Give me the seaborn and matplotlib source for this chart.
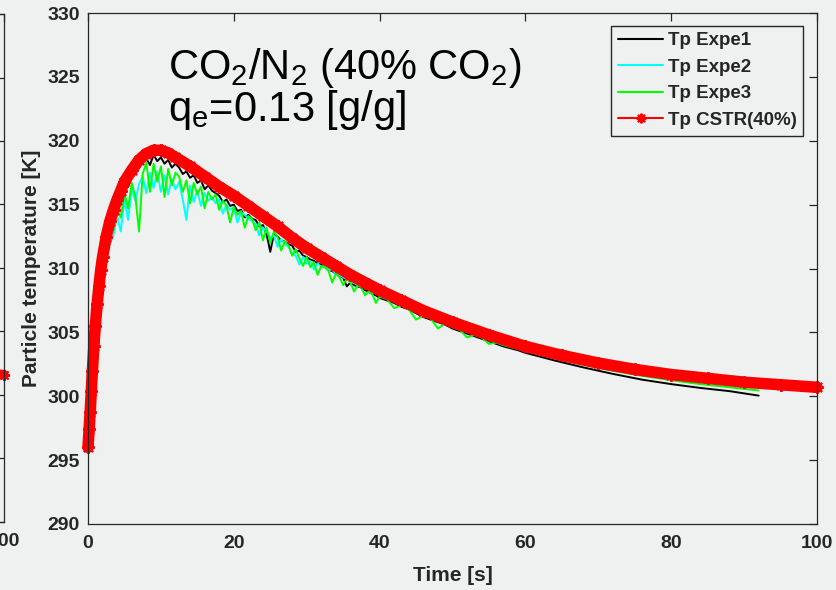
import numpy as np
import pandas as pd
import matplotlib
matplotlib.use("Agg")
import matplotlib.pyplot as plt
from matplotlib.lines import Line2D
import seaborn as sns

# ---------------- data ----------------
t_cstr = [0, 0.15, 0.3, 0.45, 0.6, 0.8, 1.0, 1.25, 1.5, 1.75, 2.0,
          2.5, 3, 3.5, 4, 4.5, 5,
          6, 7, 8, 9, 10, 11, 12,
          14, 16, 18, 20, 22, 24, 26, 28, 30, 32, 34, 36, 38, 40,
          43, 46, 50, 55, 60, 65, 70, 75, 80, 85, 90, 95, 100]
T_cstr = [296.0, 297.4, 298.8, 300.4, 302.0, 303.9, 305.5, 307.2, 308.6, 309.9, 310.9,
          312.5, 313.7, 314.6, 315.4, 316.1, 316.8,
          317.7, 318.5, 319.0, 319.25, 319.25, 319.05, 318.7,
          318.0, 317.2, 316.4, 315.7, 314.9, 314.1, 313.3, 312.4, 311.6, 310.9, 310.2, 309.5, 308.9, 308.3,
          307.5, 306.7, 305.8, 304.8, 303.9, 303.2, 302.6, 302.1, 301.7, 301.4, 301.1, 300.9, 300.7]

# sampling times of the experiments
t_exp = ([0, 0.3, 0.6, 1.0, 1.5, 2.0]
         + [k / 2 for k in range(5, 81)]
         + list(range(41, 61))
         + [64, 68, 72, 76, 80, 84, 88, 92])

T_expe1 = [296.0, 298.6, 301.7, 305.2, 308.2, 310.4,
           312.0, 313.1, 314.0, 314.9, 315.5, 316.2, 316.4, 317.1, 317.4, 317.9,
           318.3, 318.6, 318.1, 318.9, 318.4, 318.7, 318.2, 318.5, 317.9, 318.2,
           317.9, 317.4, 317.6, 317.1, 317.3, 316.7, 316.9, 316.2, 316.5, 316.1,
           315.9, 315.7, 315.2, 315.4, 314.9, 315.0, 314.5, 314.6, 314.0, 314.2,
           313.9, 313.8, 313.3, 313.4, 312.7, 311.3, 312.7, 312.5, 312.2, 312.1,
           311.9, 311.8, 311.3, 311.4, 311.0, 310.9, 310.7, 310.6, 310.4, 310.3,
           310.1, 309.9, 309.8, 309.6, 309.4, 309.3, 308.6, 308.9, 308.7, 308.6,
           308.5, 308.3, 308.2, 308.0, 307.9, 307.7,
           307.5, 307.3, 307.0, 306.8, 306.5, 306.2, 306.0, 305.8, 305.6, 305.3,
           305.1, 304.9, 304.7, 304.5, 304.3, 304.1, 303.9, 303.75, 303.6, 303.4,
           302.8, 302.25, 301.75, 301.3, 300.95, 300.65, 300.4, 300.05]

T_expe2 = [296.0, 298.3, 301.0, 304.2, 306.8, 309.0,
           310.8, 311.9, 312.6, 314.1, 312.9, 315.4, 313.8, 316.2, 315.3, 316.6,
           317.2, 315.9, 317.5, 316.3, 317.6, 316.0, 317.3, 315.8, 317.0, 316.2,
           316.8, 315.4, 313.8, 316.5, 315.2, 316.1, 314.9, 315.9, 315.3, 315.6,
           315.1, 315.4, 314.3, 315.0, 314.6, 314.8, 313.6, 314.4, 314.2, 313.9,
           313.7, 313.5, 312.6, 313.2, 312.9, 312.4, 312.6, 311.7, 312.3, 311.9,
           311.7, 311.2, 311.0, 310.3, 310.9, 310.4, 310.6, 309.9, 310.4, 310.1,
           310.2, 309.9, 309.9, 309.6, 309.5, 309.3, 309.2, 308.9, 308.9, 308.7,
           308.7, 308.5, 308.4, 308.2, 308.1, 307.9,
           307.9, 307.6, 307.35, 307.1, 306.9, 306.6, 306.45, 306.2, 306.05, 305.85,
           305.7, 305.55, 305.45, 305.3, 305.1, 304.9, 304.75, 304.55, 304.4, 304.2,
           303.6, 303.1, 302.6, 302.2, 301.85, 301.55, 301.3, 301.05]

T_expe3 = [296.0, 298.5, 301.4, 304.8, 307.8, 309.8,
           311.6, 312.8, 313.0, 314.6, 314.0, 315.9, 314.7, 316.7, 315.6, 312.9,
           317.4, 318.3, 316.0, 318.2, 316.8, 318.0, 315.6, 317.8, 316.5, 317.5,
           317.2, 316.0, 316.9, 315.1, 316.7, 315.8, 316.4, 314.7, 316.0, 315.4,
           315.8, 314.6, 315.3, 314.9, 313.6, 314.8, 314.2, 314.5, 313.2, 314.1,
           313.9, 313.0, 313.6, 312.2, 313.2, 312.0, 312.9, 312.5, 311.4, 312.1,
           311.8, 311.0, 311.5, 310.8, 310.2, 310.9, 310.1, 310.5, 309.5, 310.2,
           310.1, 309.8, 308.9, 309.6, 309.3, 308.7, 309.2, 308.9, 308.2, 308.7,
           308.5, 307.9, 308.2, 308.0, 307.3, 307.8,
           307.6, 306.9, 307.1, 306.8, 306.0, 306.3, 306.1, 305.3, 305.7, 305.4,
           305.2, 304.6, 304.8, 304.6, 304.1, 304.2, 304.0, 303.85, 303.7, 303.55,
           303.0, 302.45, 302.0, 301.6, 301.25, 300.95, 300.7, 300.45]

# tail of the neighbouring (cropped) panel on the left
t_left_tail = [99, 100]
T_left_tail = [301.65, 301.6]

labels = ["Tp Expe1", "Tp Expe2", "Tp Expe3", "Tp CSTR(40%)"]
x_ticks = [0, 20, 40, 60, 80, 100]
y_ticks = [290, 295, 300, 305, 310, 315, 320, 325, 330]

# ---------------- style ----------------
BG = "#eff1f1"
DARK = "#262626"
sns.set_theme(style="white")
plt.rcParams["font.family"] = ["Liberation Sans", "DejaVu Sans"]
plt.rcParams["mathtext.fontset"] = "custom"
plt.rcParams["mathtext.rm"] = "Liberation Sans"
plt.rcParams["mathtext.it"] = "Liberation Sans:italic"
plt.rcParams["mathtext.bf"] = "Liberation Sans:bold"

fig = plt.figure(figsize=(8.36, 5.9), dpi=100, facecolor=BG)
ax = fig.add_axes([88 / 836, 1 - 524 / 590, 729 / 836, 511 / 590])
axl = fig.add_axes([(3.5 - 729) / 836, 1 - 522 / 590, 729 / 836, 508 / 590])

ASTER = (8, 2, 0)
TICK_FS = 14

def style_axes(a):
    a.set_facecolor(BG)
    a.set_xlim(0, 100)
    a.set_ylim(290, 330)
    a.set_xticks(x_ticks)
    a.set_yticks(y_ticks)
    a.tick_params(direction="in", length=5.8, width=0.9, colors=DARK,
                  top=True, right=True, labelsize=TICK_FS)
    for s in a.spines.values():
        s.set_color(DARK)
        s.set_linewidth(0.9)
    for lab in a.get_xticklabels() + a.get_yticklabels():
        lab.set_fontweight("bold")
        lab.set_color(DARK)

# neighbour panel (only its right edge is visible)
style_axes(axl)
axl.tick_params(axis="y", labelleft=False)
axl.tick_params(axis="x", pad=8)
sns.lineplot(x=t_left_tail, y=T_left_tail, ax=axl, color="red", linewidth=7,
             marker=ASTER, markersize=8, markeredgewidth=1.5, markeredgecolor="red",
             estimator=None, sort=False, clip_on=False)

# main panel
style_axes(ax)
ax.tick_params(axis="x", pad=8)
ax.tick_params(axis="y", pad=6)
sns.lineplot(x=t_exp, y=T_expe1, ax=ax, color="black", linewidth=1.4, estimator=None, sort=False)
sns.lineplot(x=t_exp, y=T_expe2, ax=ax, color="#00ffff", linewidth=1.4, estimator=None, sort=False)
sns.lineplot(x=t_exp, y=T_expe3, ax=ax, color="#00ff00", linewidth=1.4, estimator=None, sort=False)
sns.lineplot(x=t_cstr, y=T_cstr, ax=ax, color="red", linewidth=8.3,
             marker=ASTER, markersize=9, markeredgewidth=1.5, markeredgecolor="red",
             estimator=None, sort=False, clip_on=False)

ax.set_xlabel("Time [s]", fontsize=15, fontweight="bold", color=DARK, labelpad=10)
ax.set_ylabel("Particle temperature [K]", fontsize=15, fontweight="bold", color=DARK, labelpad=4)

ax.text(11.0, 324.8, r"CO$_\mathrm{2}$/N$_\mathrm{2}$ (40% CO$_\mathrm{2}$)",
        fontsize=30, va="baseline", ha="left", color="black")
ax.text(11.0, 321.55, r"q$_\mathrm{e}$=0.13 [g/g]",
        fontsize=30, va="baseline", ha="left", color="black")

handles = [
    Line2D([], [], color="black", lw=1.5),
    Line2D([], [], color="#00ffff", lw=1.5),
    Line2D([], [], color="#00ff00", lw=1.5),
    Line2D([], [], color="red", lw=1.5, marker=ASTER, markersize=7, markeredgewidth=1.5),
]
leg = ax.legend(handles, labels, loc="upper right", bbox_to_anchor=(0.981, 0.975),
                borderaxespad=0, frameon=True, fancybox=False,
                prop={"weight": "bold", "size": 13.5},
                handlelength=2.4, handletextpad=0.25, labelspacing=0.5,
                borderpad=0.35)
leg.get_frame().set_edgecolor(DARK)
leg.get_frame().set_linewidth(1.0)
leg.get_frame().set_facecolor(BG)
leg.get_frame().set_alpha(1)
for txt in leg.get_texts():
    txt.set_color(DARK)

fig.savefig("out.png", dpi=100, facecolor=BG)
